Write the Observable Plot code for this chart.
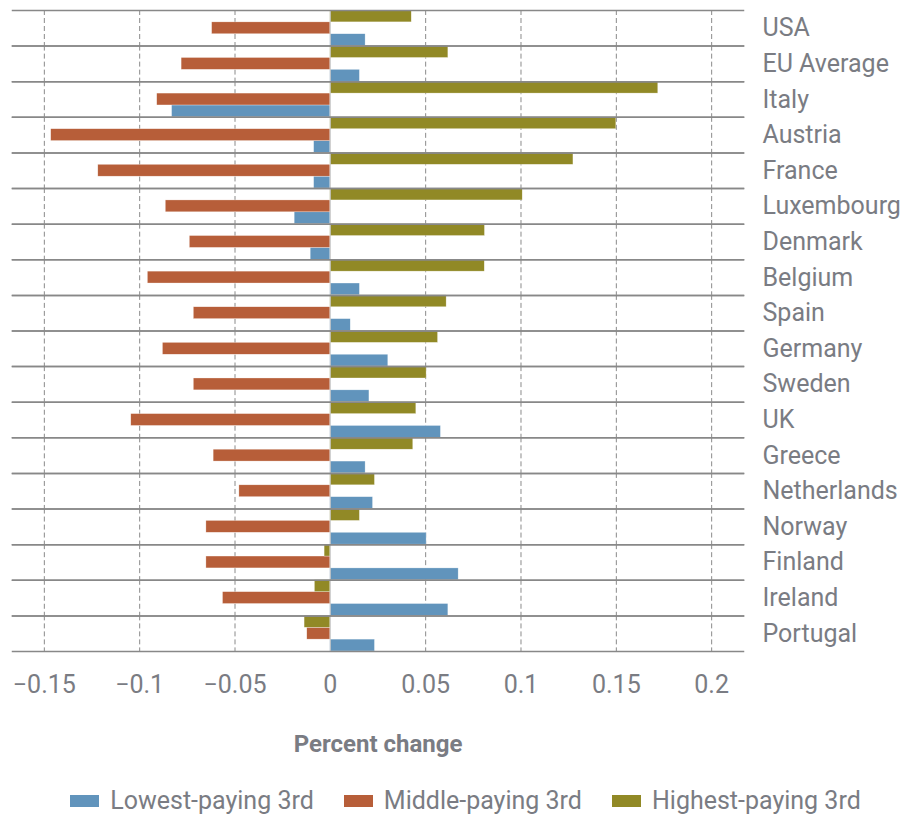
<!DOCTYPE html>
<html>
<head>
<meta charset="utf-8">
<script src="https://cdn.jsdelivr.net/npm/d3@7"></script>
<script src="https://cdn.jsdelivr.net/npm/@observablehq/plot@0.6"></script>
<style>
  html, body { margin: 0; padding: 0; background: #fff; }
  #chart { width: 905px; }
  .legend { display: flex; justify-content: center; align-items: center; gap: 30px;
    font-family: Roboto, sans-serif; font-size: 25px; color: #7a7c83; line-height: 30px; margin-top: 16px; padding-left: 26px; }
  .legend .item { display: flex; align-items: center; }
  .legend .sw { width: 29px; height: 12px; margin-right: 11px; }
</style>
</head>
<body>
<div id="chart"></div>
<script>
const countries = ["USA","EU Average","Italy","Austria","France","Luxembourg","Denmark","Belgium","Spain","Germany","Sweden","UK","Greece","Netherlands","Norway","Finland","Ireland","Portugal"];
const lowest  = [0.0185, 0.0155, -0.083, -0.0085, -0.0085, -0.0187, -0.0103, 0.0155, 0.0107, 0.0304, 0.0205, 0.058, 0.0185, 0.0224, 0.0505, 0.0673, 0.0619, 0.0234];
const middle  = [-0.062, -0.078, -0.0908, -0.1464, -0.1217, -0.0863, -0.0737, -0.0957, -0.0716, -0.0878, -0.0716, -0.1044, -0.0612, -0.0477, -0.065, -0.065, -0.0563, -0.0121];
const highest = [0.0427, 0.0619, 0.172, 0.150, 0.1275, 0.1009, 0.0811, 0.081, 0.061, 0.0565, 0.0505, 0.0451, 0.0435, 0.0234, 0.0155, -0.003, -0.0081, -0.0135];
const seriesNames = ["Lowest-paying 3rd", "Middle-paying 3rd", "Highest-paying 3rd"];
const seriesColors = ["#6194bc", "#b75e39", "#918926"];
const xTicks = [-0.15, -0.1, -0.05, 0, 0.05, 0.1, 0.15, 0.2];
const xDomain = [-0.1667, 0.2167];
const xLabel = "Percent change";

const seriesValues = [lowest, middle, highest];
const data = [];
countries.forEach((c, i) => {
  seriesNames.forEach((s, j) => data.push({country: c, series: s, value: seriesValues[j][i]}));
});

const fmt = d => d === 0 ? "0" : d3.format("")(d);

const chart = Plot.plot({
  width: 905,
  height: 770,
  marginLeft: 12,
  marginRight: 162,
  marginTop: 10,
  marginBottom: 119,
  style: {fontFamily: "Roboto, sans-serif", fontSize: "25px", color: "#7a7c83", background: "#fff"},
  x: {domain: xDomain, ticks: xTicks, tickFormat: fmt, tickSize: 0, tickPadding: 24,
      label: xLabel, labelAnchor: "center", labelOffset: 100},
  y: {domain: [...seriesNames].reverse(), axis: null, padding: 0, round: false},
  fy: {domain: countries, axis: "right", tickSize: 0, tickPadding: 19, label: null, padding: 0, round: false},
  color: {domain: seriesNames, range: seriesColors},
  marks: [
    Plot.ruleX(xTicks.filter(d => d !== 0), {stroke: "#8a8a8a", strokeWidth: 1, strokeDasharray: "5,3"}),
    Plot.barX(data, {fy: "country", y: "series", x: "value", fill: "series", stroke: "#fff", strokeWidth: 0.5, strokeOpacity: 0.6}),
    Plot.ruleX([0], {stroke: "#c8c8c8", strokeWidth: 1}),
    Plot.frame({anchor: "top", stroke: "#888", strokeWidth: 1.5}),
    Plot.frame({anchor: "bottom", stroke: "#888", strokeWidth: 1.5})
  ]
});
document.getElementById("chart").appendChild(chart);

// axis label: plain text (no arrow), bold
chart.querySelectorAll("text").forEach(t => {
  if (t.textContent.includes(xLabel)) {
    t.textContent = xLabel;
    t.setAttribute("font-weight", "bold");
    t.setAttribute("font-size", "24px");
  }
});

const legend = document.createElement("div");
legend.className = "legend";
seriesNames.forEach((s, j) => {
  const it = document.createElement("div");
  it.className = "item";
  const sw = document.createElement("span");
  sw.className = "sw";
  sw.style.background = seriesColors[j];
  const tx = document.createElement("span");
  tx.textContent = s;
  it.appendChild(sw); it.appendChild(tx);
  legend.appendChild(it);
});
document.getElementById("chart").appendChild(legend);
</script>
</body>
</html>
